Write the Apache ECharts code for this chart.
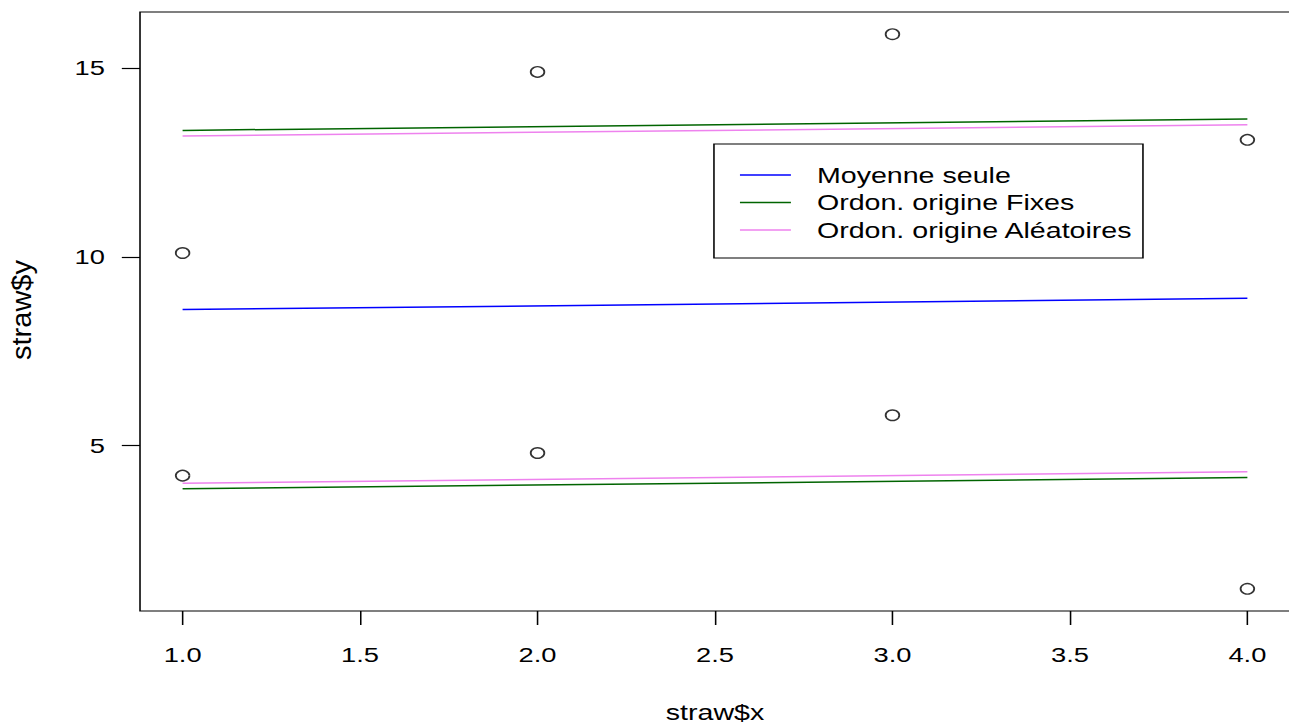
<!DOCTYPE html>
<html>
<head>
<meta charset="utf-8">
<script src="https://cdn.jsdelivr.net/npm/echarts@6/dist/echarts.min.js"></script>
<style>
html, body { margin: 0; padding: 0; overflow: hidden; background: #fff; }
#wrap { width: 1289px; height: 724px; overflow: hidden; }
#chart { width: 992px; height: 724px; transform: scaleX(1.3); transform-origin: 0 0; }
</style>
</head>
<body>
<div id="wrap"><div id="chart"></div></div>
<script>
// Observations
const obsX = [1, 2, 3, 4];
const groupA = [10.1, 14.9, 15.9, 13.1];
const groupB = [4.2, 4.8, 5.8, 1.2];

// Fitted lines (x from 1 to 4)
const lineX = [1, 4];
const meanOnly = [8.6, 8.9];
const fixedUpper = [13.35, 13.65];
const fixedLower = [3.85, 4.15];
const randomUpper = [13.2, 13.5];
const randomLower = [4.0, 4.3];

// Tick labels
const xTicks = [1.0, 1.5, 2.0, 2.5, 3.0, 3.5, 4.0];
const yTicks = [5, 10, 15];

const legendNames = ['Moyenne seule', 'Ordon. origine Fixes', 'Ordon. origine Aléatoires'];
const xTitle = 'straw$x';
const yTitle = 'straw$y';
const FONT = 'Liberation Sans, Arial, Helvetica, sans-serif';

function pairs(xs, ys) { return xs.map((x, i) => [x, ys[i]]); }

const chart = echarts.init(document.getElementById('chart'), null, { renderer: 'svg' });

function lineSeries(name, ys, color) {
  return {
    name: name, type: 'line', data: pairs(lineX, ys),
    symbol: 'none', silent: true, animation: false,
    lineStyle: { color: color, width: 1.5 },
    itemStyle: { color: color }
  };
}

const option = {
  backgroundColor: '#ffffff',
  animation: false,
  grid: {
    left: 107.7, top: 12, width: 884.6, height: 599,
    containLabel: false, outerBoundsMode: 'none',
    show: true, borderColor: '#000', borderWidth: 1.2, backgroundColor: 'transparent'
  },
  xAxis: {
    type: 'value', min: 0.88, max: 4.12,
    name: xTitle, nameLocation: 'middle', nameGap: 90,
    nameTextStyle: { fontFamily: FONT, fontSize: 22, color: '#000' },
    axisLine: { show: false },
    splitLine: { show: false },
    axisTick: { show: true, customValues: xTicks, length: 14, lineStyle: { color: '#000', width: 1.2 } },
    axisLabel: { customValues: xTicks, margin: 33, fontFamily: FONT, fontSize: 21, color: '#000',
      formatter: v => Number(v).toFixed(1) }
  },
  yAxis: {
    type: 'value', min: 0.612, max: 16.488,
    axisLine: { show: false },
    splitLine: { show: false },
    axisTick: { show: true, customValues: yTicks, length: 14, lineStyle: { color: '#000', width: 1.2 } },
    axisLabel: { customValues: yTicks, margin: 27, fontFamily: FONT, fontSize: 21, color: '#000',
      formatter: v => String(v) }
  },
  legend: {
    data: legendNames.map(n => ({ name: n, icon: 'rect' })),
    orient: 'vertical',
    left: 569.2, top: 164,
    padding: 0,
    itemWidth: 39.2, itemHeight: 1.5,
    itemGap: 5.5,
    selectedMode: false,
    textStyle: { fontFamily: FONT, fontSize: 22, color: '#000', lineHeight: 21, padding: [0, 0, 0, 15] }
  },
  graphic: [{
    type: 'rect', silent: true, z: 100,
    shape: { x: 549.2, y: 144, width: 330, height: 114 },
    style: { fill: 'none', stroke: '#000', lineWidth: 1.2 }
  }, {
    type: 'text', silent: true, z: 100,
    x: 16.9, y: 310, rotation: Math.PI / 2, scaleX: 1.38,
    style: { text: yTitle, font: '21px ' + FONT, fill: '#000', align: 'center', verticalAlign: 'middle' }
  }],
  series: [
    {
      type: 'scatter', name: 'obsA', data: pairs(obsX, groupA),
      symbol: 'circle', symbolSize: 10.5, silent: true,
      itemStyle: { color: 'rgba(0,0,0,0)', borderColor: '#000', borderWidth: 1.4 }
    },
    {
      type: 'scatter', name: 'obsB', data: pairs(obsX, groupB),
      symbol: 'circle', symbolSize: 10.5, silent: true,
      itemStyle: { color: 'rgba(0,0,0,0)', borderColor: '#000', borderWidth: 1.4 }
    },
    lineSeries(legendNames[0], meanOnly, '#0000ff'),
    lineSeries(legendNames[1], fixedUpper, '#006400'),
    lineSeries(legendNames[1], fixedLower, '#006400'),
    lineSeries(legendNames[2], randomUpper, '#ee82ee'),
    lineSeries(legendNames[2], randomLower, '#ee82ee')
  ]
};
chart.setOption(option);
</script>
</body>
</html>
